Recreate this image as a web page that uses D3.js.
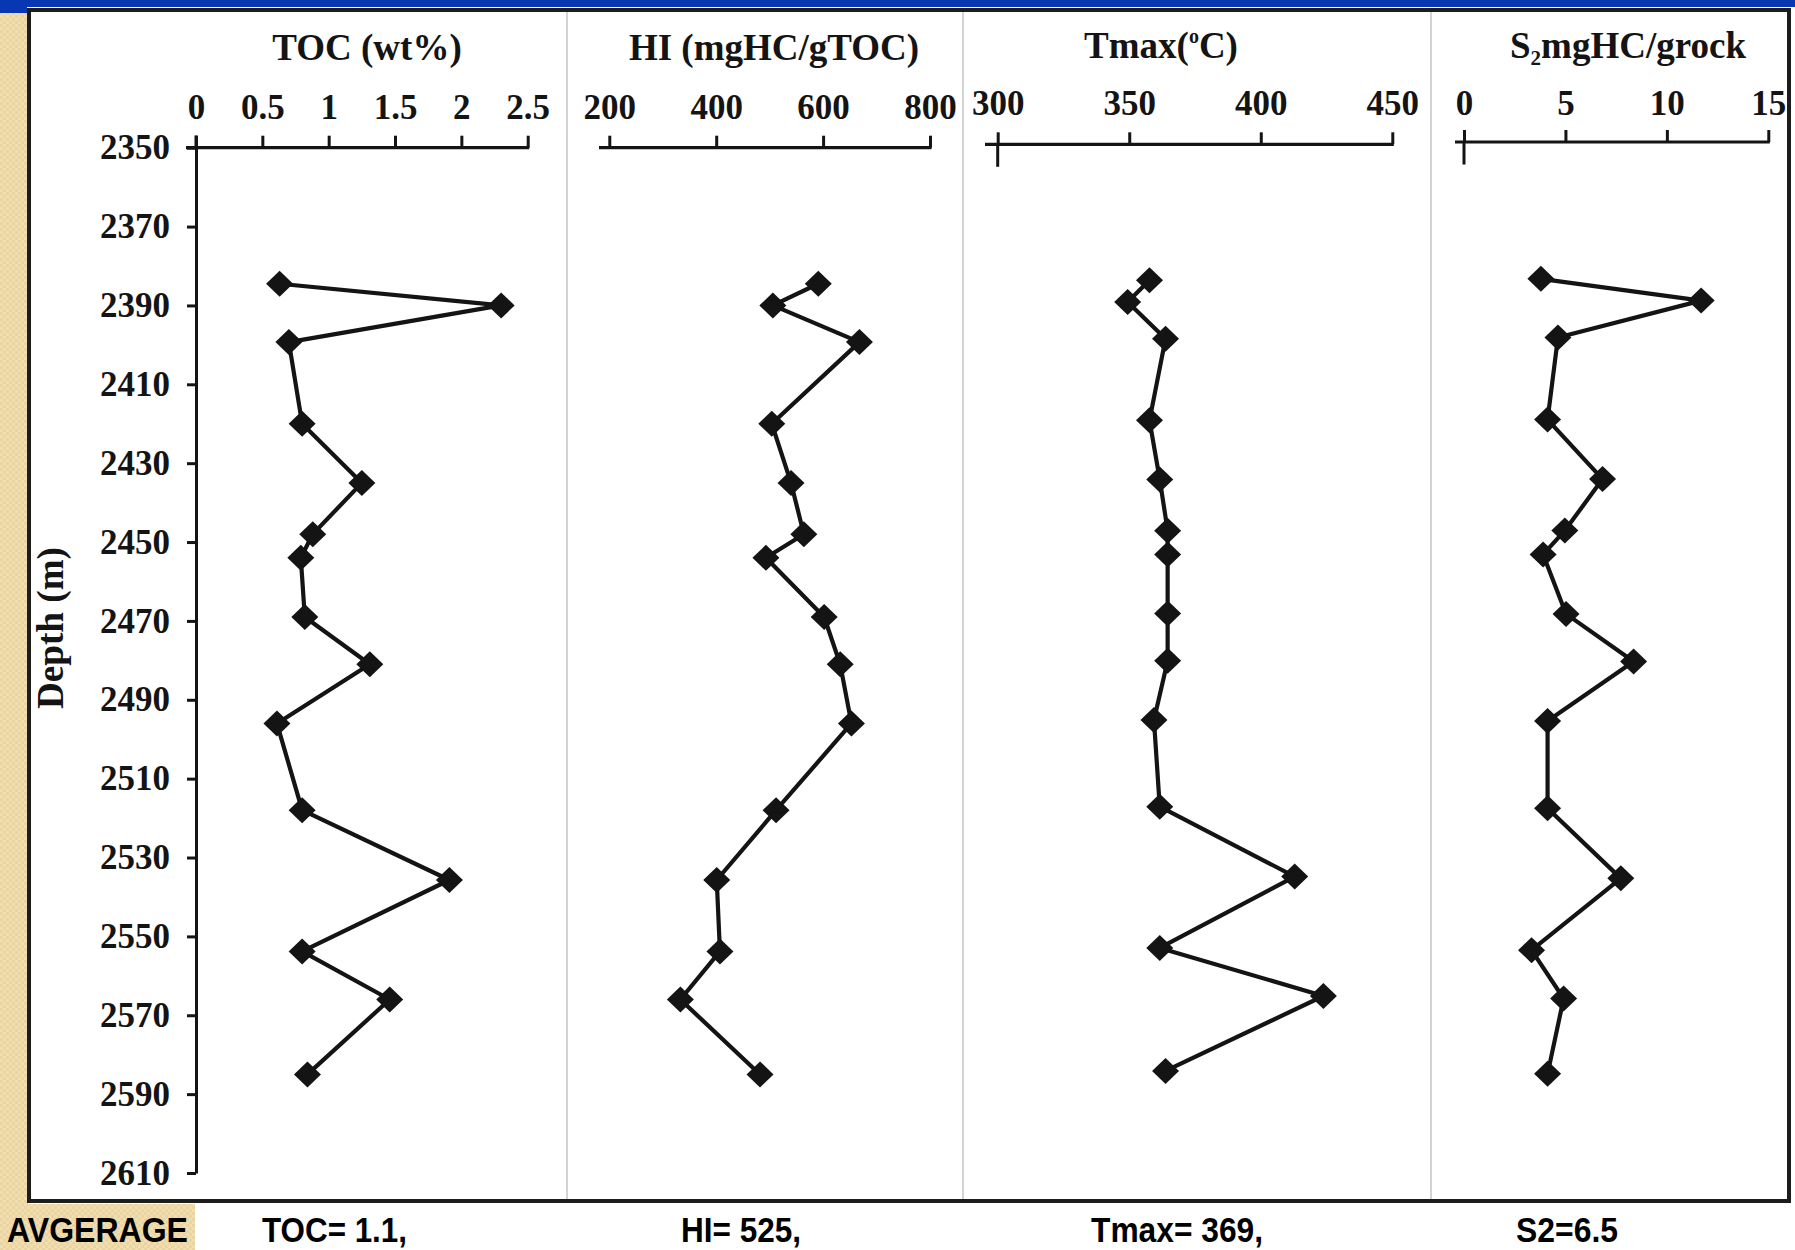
<!DOCTYPE html>
<html>
<head>
<meta charset="utf-8">
<script src="https://cdn.jsdelivr.net/npm/d3@7"></script>
<style>
  html, body { margin: 0; padding: 0; background: #ffffff; }
  svg { display: block; }
</style>
</head>
<body>
<script>
// ---------------- DATA ----------------
const depths = [2384.5, 2390, 2399.3, 2420, 2435, 2448, 2454, 2469, 2481, 2496, 2518, 2535.7, 2553.8, 2566, 2585];
const tocValues  = [0.63, 2.30, 0.70, 0.80, 1.25, 0.88, 0.79, 0.82, 1.31, 0.61, 0.80, 1.91, 0.80, 1.46, 0.84];
const hiValues   = [591, 506, 668, 504, 540, 564, 493, 602, 632, 653, 512, 401, 407, 333, 482];
const tmaxValues = [357.7, 349.4, 363.8, 357.7, 361.6, 364.6, 364.6, 364.6, 364.6, 359.4, 361.6, 412.9, 361.6, 423.8, 363.8];
const s2Values   = [3.79, 11.69, 4.63, 4.12, 6.83, 4.97, 3.90, 5.03, 8.36, 4.12, 4.12, 7.73, 3.33, 4.91, 4.12];

const depthTicks = [2350, 2370, 2390, 2410, 2430, 2450, 2470, 2490, 2510, 2530, 2550, 2570, 2590, 2610];
const tocTicks  = [0, 0.5, 1, 1.5, 2, 2.5];
const hiTicks   = [200, 400, 600, 800];
const tmaxTicks = [300, 350, 400, 450];
const s2Ticks   = [0, 5, 10, 15];

const averageLabels = ["AVGERAGE", "TOC= 1.1,", "HI= 525,", "Tmax= 369,", "S2=6.5"];

// ---------------- LAYOUT ----------------
const W = 1795, H = 1250;
const svg = d3.select("body").append("svg").attr("width", W).attr("height", H);

const beige = "#f0ddb0";
const ink = "#141414";
const serif = "'Liberation Serif', 'Times New Roman', serif";
const sans = "'Liberation Sans', Arial, sans-serif";

// background pattern for beige strips
const defs = svg.append("defs");
const pat = defs.append("pattern").attr("id", "beigePat").attr("width", 6).attr("height", 6)
  .attr("patternUnits", "userSpaceOnUse");
pat.append("rect").attr("width", 6).attr("height", 6).attr("fill", beige);
pat.append("rect").attr("x", 0).attr("y", 0).attr("width", 3).attr("height", 3).attr("fill", "#ead4a2");
pat.append("rect").attr("x", 3).attr("y", 3).attr("width", 3).attr("height", 3).attr("fill", "#ead4a2");

svg.append("rect").attr("x", 0).attr("y", 0).attr("width", W).attr("height", H).attr("fill", "#ffffff");
svg.append("rect").attr("x", 0).attr("y", 10).attr("width", 28).attr("height", 1196).attr("fill", "url(#beigePat)");
svg.append("rect").attr("x", 0).attr("y", 1204).attr("width", 195).attr("height", 46).attr("fill", "url(#beigePat)");
// blue top band
svg.append("rect").attr("x", 0).attr("y", 0).attr("width", W).attr("height", 7).attr("fill", "#0737b3");
svg.append("rect").attr("x", 0).attr("y", 0).attr("width", 27).attr("height", 13).attr("fill", "#0737b3");

// frame
const frame = {x: 29, y: 10, w: 1760, h: 1191};
svg.append("rect").attr("x", frame.x).attr("y", frame.y).attr("width", frame.w).attr("height", frame.h)
  .attr("fill", "#ffffff").attr("stroke", "#1c1c1c").attr("stroke-width", 4);

// panel dividers
const dividers = [567, 963, 1431];
svg.selectAll("line.divider").data(dividers).join("line")
  .attr("class", "divider")
  .attr("x1", d => d).attr("x2", d => d)
  .attr("y1", frame.y + 2).attr("y2", frame.y + frame.h - 2)
  .attr("stroke", "#c4c4c4").attr("stroke-width", 1.5);

// ---------------- PANELS ----------------
const depthBottomY = 1173;
const panels = [
  {values: tocValues, ticks: tocTicks, domain: [0, 2.5], range: [196, 527.7], axisY: 147.7, bottomY: depthBottomY,
   labelGap: 16.5, lineStart: 186, cross: false, fmt: d => d},
  {values: hiValues, ticks: hiTicks, domain: [200, 800], range: [609.3, 930], axisY: 147.7, bottomY: depthBottomY,
   labelGap: 16.5, lineStart: 599, cross: false, fmt: d => d},
  {values: tmaxValues, ticks: tmaxTicks, domain: [300, 450], range: [997.7, 1392.3], axisY: 144.3, bottomY: depthBottomY - 3.5,
   labelGap: 17.5, lineStart: 985, cross: true, fmt: d => d},
  {values: s2Values, ticks: s2Ticks, domain: [0, 15], range: [1464, 1768.3], axisY: 142, bottomY: depthBottomY,
   labelGap: 15.5, lineStart: 1455, cross: true, fmt: d => d}
];

const diamond = "M0,-13L13.5,0L0,13L-13.5,0Z";

panels.forEach(p => {
  const x = d3.scaleLinear().domain(p.domain).range(p.range);
  const y = d3.scaleLinear().domain([2350, 2610]).range([p.axisY, p.bottomY]);

  // top axis
  const ax = d3.axisTop(x).tickValues(p.ticks).tickSize(12).tickPadding(p.labelGap).tickFormat(p.fmt);
  const g = svg.append("g").attr("transform", `translate(0,${p.axisY})`).call(ax);
  g.select(".domain").remove();
  g.selectAll(".tick line").attr("stroke", ink).attr("stroke-width", 3);
  g.selectAll(".tick text").attr("fill", ink).attr("font-family", serif).attr("font-weight", "bold")
    .attr("font-size", 35);
  g.append("line").attr("x1", p.lineStart).attr("x2", x(p.domain[1]) + 1.5).attr("y1", 0).attr("y2", 0)
    .attr("stroke", ink).attr("stroke-width", 3.2);
  if (p.cross) {
    g.append("line").attr("x1", x(p.domain[0])).attr("x2", x(p.domain[0])).attr("y1", 0).attr("y2", 22.5)
      .attr("stroke", ink).attr("stroke-width", 3);
  }

  // data line
  const pts = depths.map((d, i) => [x(p.values[i]), y(d)]);
  svg.append("path").attr("d", d3.line()(pts)).attr("fill", "none")
    .attr("stroke", ink).attr("stroke-width", 4.2).attr("stroke-linejoin", "round");
  svg.selectAll(null).data(pts).join("path")
    .attr("d", diamond)
    .attr("transform", d => `translate(${d[0]},${d[1]})`)
    .attr("fill", ink);
});

// depth axis (left)
const yDepth = d3.scaleLinear().domain([2350, 2610]).range([147.7, depthBottomY]);
const yAx = d3.axisLeft(yDepth).tickValues(depthTicks).tickSize(9).tickPadding(17).tickSizeOuter(0)
  .tickFormat(d3.format("d"));
const gy = svg.append("g").attr("transform", "translate(196,0)").call(yAx);
gy.select(".domain").attr("stroke", ink).attr("stroke-width", 3);
gy.selectAll(".tick line").attr("stroke", ink).attr("stroke-width", 3);
gy.selectAll(".tick text").attr("fill", ink).attr("font-family", serif).attr("font-weight", "bold")
  .attr("font-size", 35);
gy.append("line").attr("x1", 0).attr("x2", 0).attr("y1", 135.5).attr("y2", 148)
  .attr("stroke", ink).attr("stroke-width", 3);

// depth axis title
svg.append("text")
  .attr("transform", "translate(63,628) rotate(-90)")
  .attr("text-anchor", "middle")
  .attr("font-family", serif).attr("font-weight", "bold").attr("font-size", 37)
  .attr("textLength", 162).attr("lengthAdjust", "spacingAndGlyphs")
  .attr("fill", ink)
  .text("Depth (m)");

// ---------------- TITLES ----------------
function title(x, yb) {
  return svg.append("text").attr("x", x).attr("y", yb).attr("text-anchor", "middle")
    .attr("font-family", serif).attr("font-weight", "bold").attr("font-size", 37).attr("fill", ink);
}
title(367, 60).text("TOC (wt%)");
title(774, 60).text("HI (mgHC/gTOC)");
const tT = title(1161, 58);
tT.append("tspan").text("Tmax(");
tT.append("tspan").attr("font-size", 20).attr("dy", -15).text("o");
tT.append("tspan").attr("dy", 15).text("C)");
const tS = title(1628, 58);
tS.append("tspan").text("S");
tS.append("tspan").attr("font-size", 21).attr("dy", 7).text("2");
tS.append("tspan").attr("dy", -7).text("mgHC/grock");

// ---------------- AVERAGES ----------------
const avgPos = [[7, 181], [262, 145], [681, 120], [1091, 172], [1516, 102]];
svg.selectAll("text.avg").data(averageLabels).join("text")
  .attr("class", "avg")
  .attr("x", (d, i) => avgPos[i][0])
  .attr("y", 1242)
  .attr("textLength", (d, i) => avgPos[i][1])
  .attr("lengthAdjust", "spacingAndGlyphs")
  .attr("font-family", sans).attr("font-weight", "bold").attr("font-size", 35)
  .attr("fill", "#000")
  .text(d => d);
</script>
</body>
</html>
